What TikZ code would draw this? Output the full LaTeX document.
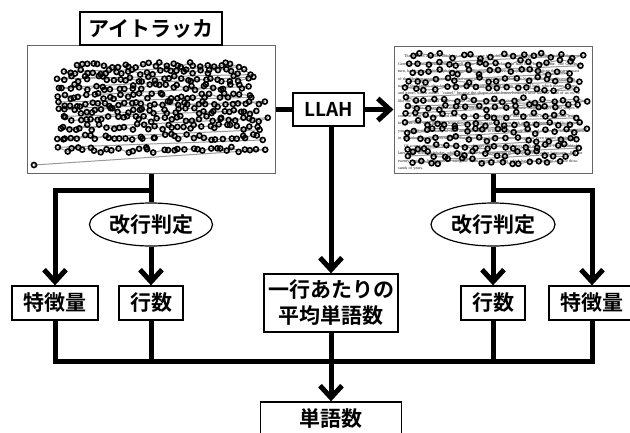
\documentclass[tikz,border=0pt]{standalone}
\usepackage{fontspec}
\newfontfamily\jp{Noto Sans CJK JP Bold}
\newfontfamily\docf{Liberation Serif}
\usetikzlibrary{arrows.meta,shapes.geometric}
\newcommand\gstep{6}
\newcommand\gjit{3}
\newcommand\gazepass[2]{%
  \foreach \ry/\rxa/\rxb in {#2}{%
    \pgfmathsetmacro\nn{int((\rxb-\rxa)/\gstep)}%
    \foreach \k in {0,...,\nn}{%
      \pgfmathsetmacro\px{\rxa+\k*\gstep+\gjit*rand}%
      \pgfmathsetmacro\py{\ry+\gjit*rand}%
      \ifnum#1=0 \draw[gline] (gprev) -- (\px,\py); \coordinate (gprev) at (\px,\py);%
      \else \draw[gdot] (\px,\py) circle[radius=2.5pt];\fi
    }%
  }%
}
\begin{document}
\begin{tikzpicture}[x=1pt,y=-1pt,
  box/.style={draw=black,line width=1.3pt,fill=white,inner sep=0pt,align=center,
    font=\jp\fontsize{21}{26}\selectfont},
  ell/.style={ellipse,draw=black,line width=1.2pt,fill=white,inner sep=0pt,
    font=\jp\fontsize{21}{26}\selectfont},
  imgbox/.style={draw=black!60,line width=1pt,fill=white,inner sep=0pt},
  conn/.style={line width=5pt},
  arr/.style={line width=5pt,-{Straight Barb[length=12pt,width=22pt]}},
  gline/.style={draw=black!40,line width=1pt},
  gdot/.style={draw=black,line width=1.6pt}]
\useasboundingbox (0,0) rectangle (630,432);
\clip (0,0) rectangle (630,432);
% images
\node[imgbox,minimum width=248,minimum height=128] (limg) at (151,109) {};
\node[imgbox,minimum width=198,minimum height=127] (rimg) at (493,109.5) {};
\node[anchor=north west,inner sep=0pt,text width=186pt,color=black!90,
  font=\docf\fontsize{4.1}{7.47}\selectfont] (doctext) at (398,54.5) {%
\hspace*{6pt}The western alphabet which we use today came to us from the Romans, who borrowed it from the Greeks, and the Greeks used it as well as the Etruscans who lived in Italy long before Rome. The Greeks, in turn, had borrowed their alphabet from the Phoenician alphabet, a people who lived along the eastern coast of the Mediterranean Sea and founded many cities, including Carthage in North Africa. The Phoenicians named their letters after familiar things, such as aleph, which means ``ox,'' and beth, which means ``house,'' and gimel, which means ``camel,'' because the shapes of the letters looked a little like the head of an ox, or like the simple plan of a house or some other small building of their day.\par
\hspace*{6pt}The Greeks changed the names of the letters only a little, but they made many changes to the shapes of some of them, and they added new letters for the vowel sounds, so that both books and inscriptions written in Greek look quite different from those of the Phoenicians. If you look at the old letters carefully, however, you can still see that many of them are quite similar to the way they look now, and to the way we write them in English today. You will see, too, that some letters have been turned around or even turned upside down.\par
\hspace*{6pt}Of course, there have been many other changes since then, and letters such as J, U and W were added later to the Roman alphabet, while other letters have been added to the alphabets of other languages. But for twenty centuries Westerners are using the same system of writing which has served them so well for thousands of years.\par};
% left gaze data
\coordinate (gprev) at (75,66);
\pgfmathsetseed{11}
\gazepass{0}{65/75/240,72/62/250,79/60/255,87/58/252,96/56/255,104/58/265,111/60/262,119/62/268,127/58/265,137/55/265,150/60/265}
\draw[gline] (gprev) -- (34,165);
\pgfmathsetseed{11}
\gazepass{1}{65/75/240,72/62/250,79/60/255,87/58/252,96/56/255,104/58/265,111/60/262,119/62/268,127/58/265,137/55/265,150/60/265}
\draw[gdot] (34,165) circle[radius=2.5pt];
% right gaze data
\renewcommand\gstep{10}
\coordinate (gprev) at (412,56);
\pgfmathsetseed{5}
\gazepass{0}{56/412/582,63/408/586,72/410/578,80/407/584,88/406/585,100/405/588,107/407/585,115/405/580,123/407/582,131/405/585,139/408/583,147/406/585,154/405/575,161/410/560}
\pgfmathsetseed{5}
\gazepass{1}{56/412/582,63/408/586,72/410/578,80/407/584,88/406/585,100/405/588,107/407/585,115/405/580,123/407/582,131/405/585,139/408/583,147/406/585,154/405/575,161/410/560}
% labels and boxes
\node[box,minimum width=142,minimum height=33] (title) at (151,28.5) {アイトラッカ};
\node[box,minimum width=71,minimum height=33,font=\jp\fontsize{19}{22}\selectfont] (llah) at (328.5,109.5) {LLAH};
\node[ell,minimum width=123,minimum height=43] (lell) at (151,224.5) {改行判定};
\node[ell,minimum width=124,minimum height=43] (rell) at (493,224.5) {改行判定};
\node[box,minimum width=86,minimum height=34] (lfeat) at (55,303) {特徴量};
\node[box,minimum width=64,minimum height=34] (lrow) at (151,303) {行数};
\node[box,minimum width=134,minimum height=58] (mid) at (331,303) {一行あたりの\\平均単語数};
\node[box,minimum width=64,minimum height=34] (rrow) at (493,303) {行数};
\node[box,minimum width=86,minimum height=34] (rfeat) at (592,303) {特徴量};
\node[box,minimum width=141,minimum height=34] (words) at (331,419) {単語数};
% junctions
\coordinate (lj) at (151,190);
\coordinate (rj) at (493,190);
\coordinate (bus) at (331,361);
% connectors
\draw[conn] (limg.east |- llah.west) -- (llah.west);
\draw[arr] (llah.east) -- (rimg.west |- llah.east);
\draw[arr] (llah.south -| mid.north) -- (mid.north);
\draw[conn] (limg.south) -- (lell.north);
\draw[arr] (lell.south) -- (lrow.north);
\draw[arr] (lj) -| (lfeat.north);
\draw[conn] (rimg.south) -- (rell.north);
\draw[arr] (rell.south) -- (rrow.north);
\draw[arr] (rj) -| (rfeat.north);
\draw[conn] (lfeat.south) |- (bus);
\draw[conn] (rfeat.south) |- (bus);
\draw[conn] (lrow.south) -- (lrow.south |- bus);
\draw[conn] (rrow.south) -- (rrow.south |- bus);
\draw[arr] (mid.south) -- (words.north);
\end{tikzpicture}
\end{document}
